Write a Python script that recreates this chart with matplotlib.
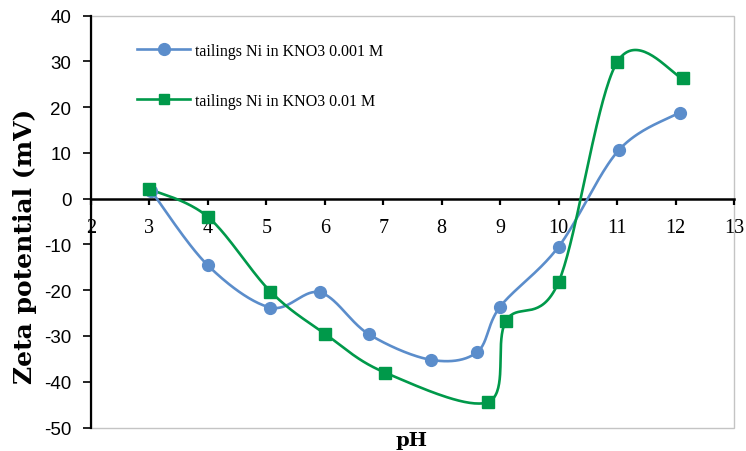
import numpy as np
import matplotlib
matplotlib.use("Agg")
import matplotlib.pyplot as plt
from matplotlib.patches import Rectangle

# Data
ph_low = [3.03, 4.0, 5.07, 5.92, 6.75, 7.81, 8.6, 9.0, 10.0, 11.03, 12.07]
zeta_low = [1.7, -14.6, -23.8, -20.5, -29.6, -35.2, -33.6, -23.6, -10.5, 10.6, 18.8]
ph_high = [3.0, 4.0, 5.07, 6.01, 7.03, 8.8, 9.1, 10.0, 11.0, 12.12]
zeta_high = [2.1, -4.0, -20.3, -29.6, -38.0, -44.4, -26.7, -18.2, 29.8, 26.3]
label_low = "tailings Ni in KNO3 0.001 M"
label_high = "tailings Ni in KNO3 0.01 M"
x_ticks = list(range(2, 14))
y_ticks = list(range(-50, 41, 10))

BLUE = "#5B8DCB"
GREEN = "#00994A"


def smooth(x, y, n=40):
    pts = np.column_stack([x, y]).astype(float)
    out = [pts[0]]
    t = np.linspace(0, 1, n)[1:, None]
    for i in range(len(pts) - 1):
        p0 = pts[i - 1] if i > 0 else pts[i]
        p1 = pts[i]
        p2 = pts[i + 1]
        p3 = pts[i + 2] if i + 2 < len(pts) else pts[i + 1]
        c1 = p1 + (p2 - p0) / 6.0
        c2 = p2 - (p3 - p1) / 6.0
        seg = ((1 - t) ** 3) * p1 + 3 * ((1 - t) ** 2) * t * c1 + 3 * (1 - t) * t ** 2 * c2 + t ** 3 * p2
        out.extend(seg)
    out = np.array(out)
    return out[:, 0], out[:, 1]


W, H = 746, 452
fig = plt.figure(figsize=(W / 100, H / 100), dpi=100)
L, R, T, B = 91, 734, 16.5, 428.5
ax = fig.add_axes([L / W, 1 - B / H, (R - L) / W, (B - T) / H])

ax.set_xlim(2, 13)
ax.set_ylim(-50, 40)

sx, sy = smooth(ph_low, zeta_low)
ax.plot(sx, sy, color=BLUE, lw=1.9, zorder=3, solid_capstyle="round")
ax.plot(ph_low, zeta_low, ls="none", marker="o", ms=8.5, color=BLUE, zorder=4)
sx, sy = smooth(ph_high, zeta_high)
ax.plot(sx, sy, color=GREEN, lw=1.9, zorder=3, solid_capstyle="round")
ax.plot(ph_high, zeta_high, ls="none", marker="s", ms=8, color=GREEN, zorder=4)

# legend handles
h1, = ax.plot([], [], color=BLUE, lw=1.9, marker="o", ms=8.5)
h2, = ax.plot([], [], color=GREEN, lw=1.9, marker="s", ms=7.5)
fs_leg = 11.5
ax.legend([h1, h2], [label_low, label_high], loc="upper left",
          bbox_to_anchor=(137 / W, 1 - 44 / H), bbox_transform=fig.transFigure,
          frameon=False, borderpad=0, borderaxespad=0,
          handlelength=53 / (fs_leg * 100 / 72), handletextpad=0.3,
          labelspacing=2.12, markerscale=1.0,
          prop={"family": "Liberation Serif", "size": fs_leg})

# spines
for s in ["top", "right"]:
    ax.spines[s].set_visible(False)
ax.spines["left"].set_color("black")
ax.spines["left"].set_linewidth(1.6)
ax.spines["bottom"].set_position(("data", 0))
ax.spines["bottom"].set_color("black")
ax.spines["bottom"].set_linewidth(1.8)
ax.add_patch(Rectangle((0, 0), 1, 1, transform=ax.transAxes, fill=False,
                       edgecolor="#C4C4C4", lw=1.0, clip_on=False, zorder=0))

ax.set_xticks(x_ticks)
ax.set_xticklabels([str(v) for v in x_ticks], family="Liberation Serif", fontsize=14.5)
ax.set_yticks(y_ticks)
ax.set_yticklabels([str(v) for v in y_ticks], family="Liberation Sans", fontsize=13.5)
ax.tick_params(axis="x", direction="out", length=4, width=1.6, pad=10)
ax.tick_params(axis="y", direction="out", length=5.8, width=1.2, pad=8.4)

fig.text(25 / W, 1 - 246 / H, "Zeta potential (mV)", rotation=90, ha="center", va="center",
         family="DejaVu Serif", fontweight="bold", fontsize=18)
fig.text(411 / W, 1 - 441 / H, "pH", ha="center", va="center",
         family="DejaVu Serif", fontweight="bold", fontsize=14)

fig.savefig("out.png", dpi=100)
